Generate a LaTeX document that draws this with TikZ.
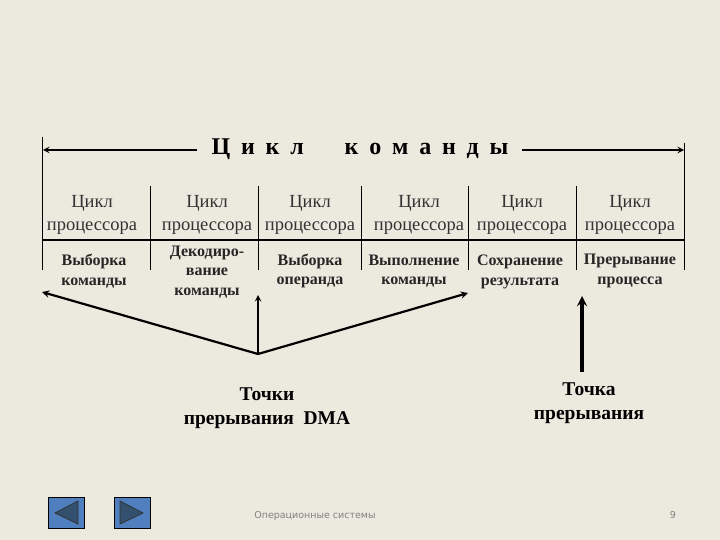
\documentclass[tikz,border=0pt]{standalone}
\usepackage{fontspec}
\setmainfont{Liberation Serif}
\newfontfamily\footfont{DejaVu Sans}
\newfontfamily\titlefont[LetterSpace=20,BoldFont={Liberation Serif Bold}]{Liberation Serif}
\usetikzlibrary{arrows,positioning}
\definecolor{slidebg}{HTML}{ECE9DF}
\definecolor{navblue}{HTML}{4F7FBF}
\definecolor{navdark}{HTML}{34506F}
\definecolor{footgray}{HTML}{808080}
\tikzstyle{span} = [line width=1.8pt,->,>=stealth,draw=black]
\tikzstyle{pointer} = [line width=2.2pt,->,>=stealth,draw=black]
\tikzstyle{tick} = [line width=0.9pt,draw=black]
\tikzstyle{cyclelabel} = [align=center,font=\fontsize{18.5}{22.5}\selectfont,text=black!80,inner sep=0pt]
\tikzstyle{steplabel} = [align=center,font=\bfseries\fontsize{16}{19.5}\selectfont,text=black!85,inner sep=0pt]
\tikzstyle{pointlabel} = [align=center,font=\bfseries\fontsize{19.5}{24.5}\selectfont,inner sep=0pt]
\tikzstyle{footlabel} = [font=\footfont\fontsize{9.5}{12}\selectfont,text=footgray,inner sep=0pt]
\tikzstyle{navbtn} = [draw=black,line width=1pt,fill=navblue,minimum width=36pt,minimum height=31pt,inner sep=0pt]
\tikzstyle{navtri} = [draw=black!80,line width=0.8pt,fill=navdark]
\begin{document}
\begin{tikzpicture}[x=1pt,y=-1pt]
    \useasboundingbox[fill=slidebg] (0,0) rectangle (720,540);

    \node (title) [inner sep=0pt,font=\titlefont\bfseries\fontsize{24}{28}\selectfont] at (360,149) {Ц и к л\hspace{41pt}к о м а н д ы};
    \coordinate (spanL) at (43,150);
    \coordinate (spanR) at (684,150);
    \draw[span] (197,150) -- (spanL);
    \draw[span] (522,150) -- (spanR);

    \node (c1) [cyclelabel] at (92,215) {Цикл\\процессора};
    \node (c2) [cyclelabel] at (207,215) {Цикл\\процессора};
    \node (c3) [cyclelabel] at (310,215) {Цикл\\процессора};
    \node (c4) [cyclelabel] at (419,215) {Цикл\\процессора};
    \node (c5) [cyclelabel] at (522,215) {Цикл\\процессора};
    \node (c6) [cyclelabel] at (630,215) {Цикл\\процессора};

    \node (s1) [steplabel] at (94,271) {Выборка\\команды};
    \node (s2) [steplabel] at (207,272) {Декодиро-\\вание\\команды};
    \node (s3) [steplabel] at (310,271) {Выборка\\операнда};
    \node (s4) [steplabel] at (414,271) {Выполнение\\команды};
    \node (s5) [steplabel] at (520,272) {Сохранение\\результата};
    \node (s6) [steplabel] at (630,271) {Прерывание\\процесса};

    % frame of the table
    \coordinate (t0) at (42,137);
    \coordinate (t1) at (150,186);
    \coordinate (t2) at (258,186);
    \coordinate (t3) at (361,186);
    \coordinate (t4) at (468,186);
    \coordinate (t5) at (576,186);
    \coordinate (t6) at (684.5,143);
    \coordinate (b0) at (42,270);
    \coordinate (b1) at (150,270);
    \coordinate (b2) at (258,270);
    \coordinate (b3) at (361,270);
    \coordinate (b4) at (468,270);
    \coordinate (b5) at (576,270);
    \coordinate (b6) at (684.5,270);
    \draw[tick] (t0) -- (b0);
    \draw[tick] (t1) -- (b1);
    \draw[tick] (t2) -- (b2);
    \draw[tick] (t3) -- (b3);
    \draw[tick] (t4) -- (b4);
    \draw[tick] (t5) -- (b5);
    \draw[tick] (t6) -- (b6);
    \coordinate (ruleL) at (42,240);
    \coordinate (ruleR) at (684.5,240);
    \draw[line width=2.6pt] (ruleL) -- (ruleR);

    \coordinate (apex) at (258,354);
    \coordinate (dma1) at (42,292);
    \coordinate (dma2) at (258,295);
    \coordinate (dma3) at (468,293);
    \draw[pointer] (apex) -- (dma1);
    \draw[pointer,line width=1.8pt] (apex) -- (dma2);
    \draw[pointer] (apex) -- (dma3);

    \node (dmalabel) [pointlabel] at (267,408) {Точки\\прерывания\ \ DMA};
    \node (intlabel) [pointlabel] at (589,403) {Точка\\прерывания};
    \coordinate (inttop) at (582,296);
    \coordinate (intfoot) at (582,372);
    \draw[pointer,line width=3.4pt] (intfoot) -- (inttop);

    \node (backbtn) [navbtn] at (66,513) {};
    \node (nextbtn) [navbtn] at (132.5,513) {};
    \draw[navtri] (55,513) -- (78,501) -- (78,524) -- cycle;
    \draw[navtri] (143,513) -- (120,501) -- (120,524) -- cycle;

    \node (footer) [footlabel] at (315,515.5) {Операционные системы};
    \node (page) [footlabel] at (673,515.5) {9};
\end{tikzpicture}
\end{document}
